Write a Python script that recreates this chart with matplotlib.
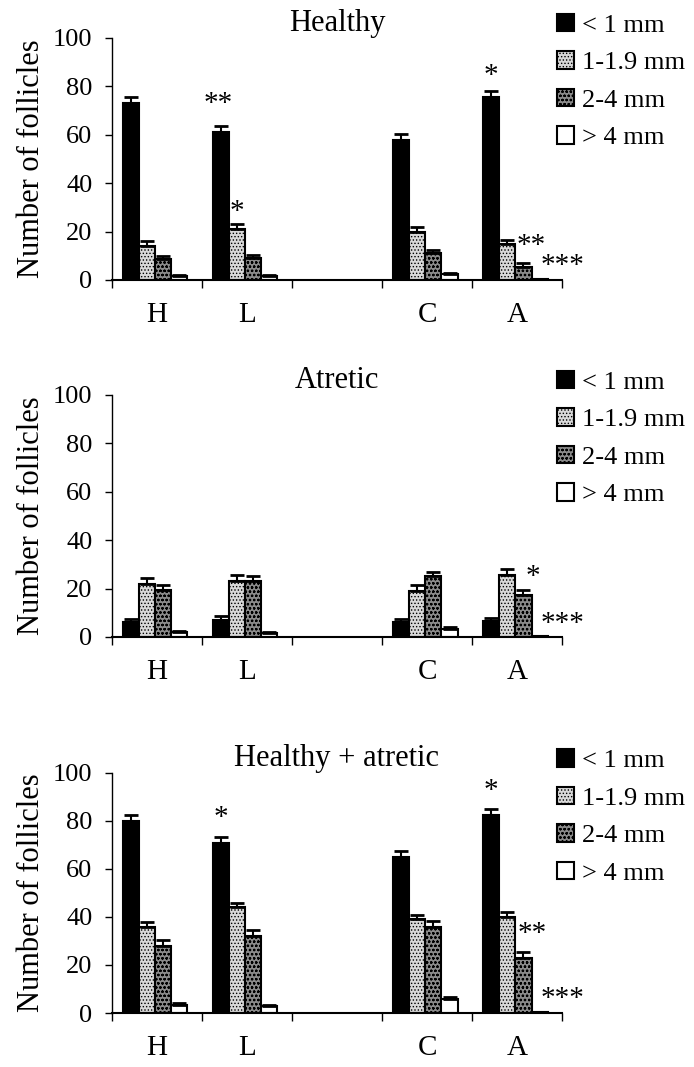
import numpy as np
import matplotlib
matplotlib.use('Agg')
import matplotlib.pyplot as plt

plt.rcParams['font.family'] = ['Liberation Serif', 'DejaVu Serif']
plt.rcParams['hatch.linewidth'] = 0.6

# groups on the x axis (third slot is an empty gap)
groups = ['H', 'L', '', 'C', 'A']
sizes = ['< 1 mm', '1-1.9 mm', '2-4 mm', '> 4 mm']
titles = ['Healthy', 'Atretic', 'Healthy + atretic']

# values per size class, order H, L, gap, C, A
healthy = [
    [73, 61, 0, 58, 75.5],
    [14, 21, 0, 20, 15],
    [8.5, 9, 0, 11, 5.5],
    [1.5, 1.5, 0, 2.5, 0.4],
]
healthy_err = [
    [2.5, 2.5, 0, 2.5, 2.5],
    [2, 2, 0, 2, 1.5],
    [1.5, 1.2, 0, 1.5, 1.5],
    [0.5, 0.4, 0, 0.5, 0],
]
atretic = [
    [6, 7, 0, 6, 6.5],
    [22, 23, 0, 19, 25.5],
    [19.5, 23, 0, 25, 17.5],
    [2, 1.5, 0, 3.5, 0.3],
]
atretic_err = [
    [1.5, 1.5, 0, 1.5, 1.5],
    [2.5, 2.5, 0, 2.5, 2.5],
    [2, 2, 0, 2, 2],
    [0.5, 0.4, 0, 0.5, 0],
]
total = [
    [80, 71, 0, 65, 82.5],
    [36, 44, 0, 39, 40],
    [28, 32, 0, 36, 23],
    [3.5, 3, 0, 6, 0.5],
]
total_err = [
    [2.5, 2.5, 0, 2.5, 2.5],
    [2, 2, 0, 2, 2],
    [2.5, 2.5, 0, 2.5, 2.5],
    [0.5, 0.5, 0, 0.5, 0],
]

# significance marks: (group index, size index, text, dx, dy)
marks = [
    [(1, 0, '**', -0.03, 4), (1, 1, '*', 0, -0.2), (4, 0, '*', 0, 1),
     (4, 1, '**', 0.27, -7.8), (4, 3, '***', 0.25, 0)],
    [(4, 2, '*', 0.1, 0), (4, 3, '***', 0.25, -0.3)],
    [(1, 0, '*', 0, 2.5), (4, 0, '*', 0, 2),
     (4, 1, '**', 0.28, -14.4), (4, 3, '***', 0.25, 0)],
]

data = [(healthy, healthy_err), (atretic, atretic_err), (total, total_err)]

faces = ['black', '#d9d9d9', '#8a8a8a', 'white']
hatches = [None, '.....', 'oooo', None]

fig = plt.figure(figsize=(6.94, 10.67), dpi=100)
boxes = [(0.161, 0.7376, 0.649, 0.2268),
         (0.161, 0.403, 0.649, 0.227),
         (0.161, 0.0506, 0.649, 0.225)]

w = 0.18
x = np.arange(len(groups))
keep = np.array([g != '' for g in groups])
for k, (vals, errs) in enumerate(data):
    ax = fig.add_axes(boxes[k])
    for i in range(4):
        pos = x - 0.5 + 0.12 + w * i + w / 2
        v = np.array(vals[i], dtype=float)
        e = np.array(errs[i], dtype=float)
        ax.bar(pos[keep], v[keep], width=w, color=faces[i], edgecolor='black',
               linewidth=1.5, hatch=hatches[i], label=sizes[i], zorder=2)
        ax.errorbar(pos[keep], v[keep], yerr=[np.zeros(keep.sum()), e[keep]],
                    fmt='none', ecolor='black', elinewidth=1.5, capsize=5,
                    capthick=2, zorder=3)
    # significance stars
    for gi, si, txt, dx, dy in marks[k]:
        px = gi - 0.5 + 0.12 + w * si + w / 2 + dx
        py = vals[si][gi] + errs[si][gi] + dy
        ax.text(px, py, txt, ha='center', va='bottom', fontsize=21)

    ax.set_xlim(-0.5, 4.5)
    ax.set_ylim(0, 100)
    ax.set_yticks([0, 20, 40, 60, 80, 100])
    ax.tick_params(axis='y', labelsize=19, length=5, width=1, pad=9)
    ax.set_xticks(np.arange(-0.5, 5, 1))
    ax.set_xticklabels([])
    ax.set_xticks(x, minor=True)
    ax.set_xticklabels(groups, minor=True, fontsize=21)
    ax.tick_params(axis='x', which='major', length=6, width=1, direction='out')
    ax.tick_params(axis='x', which='minor', length=0, pad=16)
    ax.spines['top'].set_visible(False)
    ax.spines['right'].set_visible(False)
    ax.spines['left'].set_linewidth(1)
    ax.spines['bottom'].set_linewidth(1.5)
    ax.set_ylabel('Number of follicles', fontsize=22, labelpad=5)
    ax.set_title(titles[k], fontsize=22, pad=4)
    ax.legend(loc='upper left', bbox_to_anchor=(0.966, 1.143), frameon=False,
              fontsize=19, handlelength=0.64, handleheight=0.64,
              handletextpad=0.3, labelspacing=0.55, borderaxespad=0)

fig.savefig('out.png', dpi=100)
